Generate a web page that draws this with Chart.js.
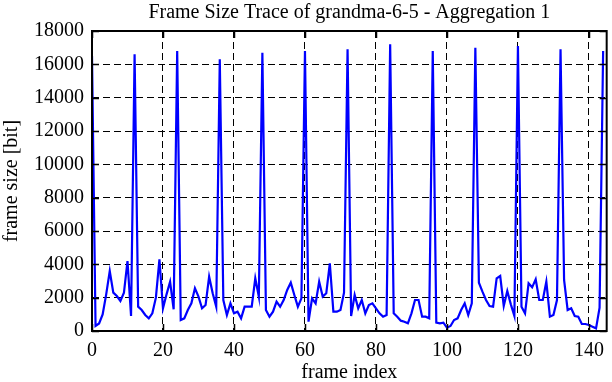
<!DOCTYPE html>
<html><head><meta charset="utf-8">
<script src="https://cdn.jsdelivr.net/npm/chart.js@4/dist/chart.umd.min.js"></script>
<style>html,body{margin:0;padding:0;background:#fff}#wrap{width:612px;height:382px}</style>
</head><body><div id="wrap"><canvas id="c" width="612" height="382"></canvas></div>
<script>
const titleText = "Frame Size Trace of grandma-6-5 - Aggregation 1";
const xAxisLabel = "frame index";
const yAxisLabel = "frame size [bit]";
const xTicks = [0, 20, 40, 60, 80, 100, 120, 140];
const yTicks = [0, 2000, 4000, 6000, 8000, 10000, 12000, 14000, 16000, 18000];
const frameSizes = [
  16500, 300, 450, 1000, 2200, 3600, 2300, 2100, 1800, 2300, 4200, 900,
  16600, 1460, 1260, 960, 760, 1060, 2000, 4300, 1360, 2200, 2960, 1300,
  16800, 660, 760, 1260, 1660, 2560, 2060, 1360, 1560, 3260, 2260, 1460,
  16300, 1860, 960, 1660, 1060, 1160, 760, 1460, 1460, 1460, 3160, 2060,
  16700, 1260, 860, 1160, 1760, 1460, 1860, 2460, 2900, 2160, 1460, 1960,
  16800, 560, 1960, 1660, 2960, 2060, 2260, 4060, 1160, 1160, 1260, 2300,
  16900, 900, 2160, 1360, 1860, 1060, 1560, 1660, 1360, 1060, 860, 960,
  17200, 1060, 860, 620, 560, 460, 1060, 1860, 1860, 860, 860, 760,
  16800, 500, 460, 500, 200, 300, 660, 760, 1260, 1660, 960, 1660,
  17000, 2900, 2360, 1860, 1500, 1460, 3160, 3300, 1500, 2400, 1600, 900,
  17100, 1460, 1060, 2860, 2620, 3100, 1860, 1860, 2960, 860, 960, 1860,
  16900, 3060, 1260, 1360, 900, 860, 420, 420, 360, 260, 160, 1400,
  16800
];
const frameIndex = frameSizes.map((_, i) => i);

const FONT = 'Liberation Serif, Times New Roman, serif';

const framePlugin = {
  id: 'frame',
  afterDatasetsDraw(chart) {
    const {ctx, chartArea: a, scales: {x, y}} = chart;
    ctx.save();
    ctx.strokeStyle = '#000';
    ctx.lineWidth = 1.5;
    ctx.setLineDash([]);
    const tl = 7;
    ctx.beginPath();
    xTicks.forEach(v => {
      const px = Math.round(x.getPixelForValue(v)) + 0.5;
      ctx.moveTo(px, a.bottom); ctx.lineTo(px, a.bottom - tl);
      ctx.moveTo(px, a.top); ctx.lineTo(px, a.top + tl);
    });
    yTicks.forEach(v => {
      const py = Math.round(y.getPixelForValue(v)) + 0.5;
      ctx.moveTo(a.left, py); ctx.lineTo(a.left + tl, py);
      ctx.moveTo(a.right, py); ctx.lineTo(a.right - tl, py);
    });
    ctx.stroke();
    ctx.lineWidth = 2;
    ctx.strokeRect(a.left, a.top, a.right - a.left, a.bottom - a.top);
    // title centred over the plot area
    ctx.fillStyle = '#000';
    ctx.font = '20px ' + FONT;
    ctx.textAlign = 'center';
    ctx.textBaseline = 'middle';
    ctx.fillText(titleText, (a.left + a.right) / 2, 13);
    ctx.restore();
  }
};

new Chart(document.getElementById('c'), {
  type: 'line',
  data: {
    datasets: [{
      data: frameIndex.map((i, k) => ({x: i, y: frameSizes[k]})),
      borderColor: '#0000ff',
      borderWidth: 2.2,
      pointRadius: 0,
      tension: 0,
      fill: false
    }]
  },
  options: {
    responsive: false,
    animation: false,
    devicePixelRatio: 1,
    layout: {padding: {left: 0, right: 2, top: 31, bottom: 0}},
    plugins: {
      legend: {display: false},
      tooltip: {enabled: false},
      title: {display: false}
    },
    scales: {
      x: {
        type: 'linear', min: 0, max: 145,
        afterBuildTicks: s => { s.ticks = xTicks.map(v => ({value: v})); },
        afterFit: s => { s.height = 51; },
        ticks: {color: '#000', font: {family: FONT, size: 20}, padding: 8, maxRotation: 0, autoSkip: false,
                callback: v => String(v)},
        grid: {
          color: c => (c.tick && (c.tick.value === 0 || c.tick.value === 145)) ? 'rgba(0,0,0,0)' : '#000',
          lineWidth: 1, drawTicks: false
        },
        border: {display: false, dash: [7, 4]},
        title: {display: true, text: xAxisLabel, color: '#000', font: {family: FONT, size: 20, lineHeight: 1.2}, padding: {top: 0, bottom: -3}}
      },
      y: {
        type: 'linear', min: 0, max: 18000,
        afterBuildTicks: s => { s.ticks = yTicks.map(v => ({value: v})); },
        afterFit: s => { s.width = 92; },
        ticks: {color: '#000', font: {family: FONT, size: 20}, padding: 8, callback: v => String(v)},
        grid: {
          color: c => (c.tick && (c.tick.value === 0 || c.tick.value === 18000)) ? 'rgba(0,0,0,0)' : '#000',
          lineWidth: 1, drawTicks: false
        },
        border: {display: false, dash: [7, 4]},
        title: {display: true, text: yAxisLabel, color: '#000', font: {family: FONT, size: 20, lineHeight: 1.2}, padding: 0}
      }
    }
  },
  plugins: [framePlugin]
});
</script>
</body></html>
